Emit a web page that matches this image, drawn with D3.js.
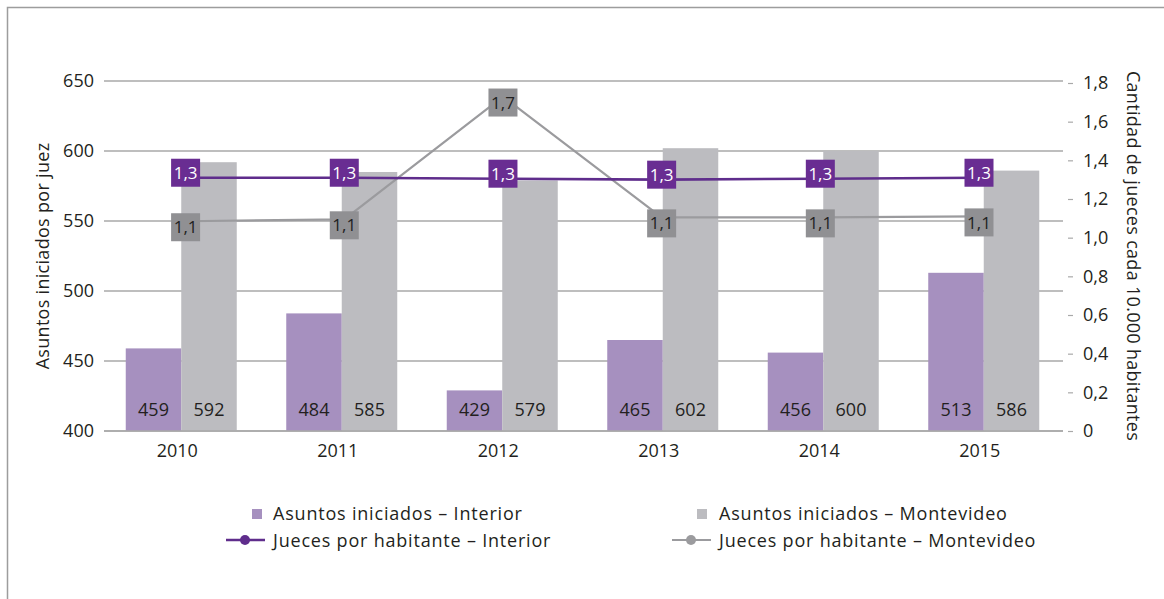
<!DOCTYPE html>
<html>
<head>
<meta charset="utf-8">
<script src="https://cdn.jsdelivr.net/npm/d3@7"></script>
<style>
  body { margin: 0; background: #fff; }
  svg text { font-family: "Open Sans", "Noto Sans", sans-serif; fill: #231f20; }
</style>
</head>
<body>
<svg id="chart" width="1164" height="599"></svg>
<script>
// Data
const years = ["2010", "2011", "2012", "2013", "2014", "2015"];
const asuntosInterior = [459, 484, 429, 465, 456, 513];
const asuntosMontevideo = [592, 585, 579, 602, 600, 586];
const juecesInterior = [1.31, 1.31, 1.305, 1.30, 1.305, 1.31];
const juecesMontevideo = [1.085, 1.095, 1.73, 1.105, 1.105, 1.11];
const leftTicks = [400, 450, 500, 550, 600, 650];
const rightTicks = [0, 0.2, 0.4, 0.6, 0.8, 1.0, 1.2, 1.4, 1.6, 1.8];

const colInteriorBar = "#a690bf", colMontevideoBar = "#bcbcc0";
const colInteriorLine = "#5f2d8c", colInteriorBox = "#692d92";
const colMontevideoLine = "#9b9b9e", colMontevideoBox = "#909093";

const svg = d3.select("#chart");
const fmt = v => d3.format(".1f")(v).replace(".", ",");

// Scales
const x = d3.scaleBand().domain(years).range([101, 1064]);
const xPt = d3.scalePoint().domain(years).range([185.6, 979]);
const yL = d3.scaleLinear().domain([400, 650]).range([431, 81]);
const yR = d3.scaleLinear().domain([0, 1.8]).range([431, 83]);
const barW = 55.5;

// Frame
svg.append("path").attr("d", "M7.5,599 V7.5 H1164")
  .attr("fill", "none").attr("stroke", "#9d9d9d").attr("stroke-width", 1.5);

// Gridlines + left axis
const yAxisL = d3.axisLeft(yL).tickValues(leftTicks).tickSize(0).tickPadding(10);
const gL = svg.append("g").attr("transform", "translate(104,0)").call(yAxisL);
gL.select(".domain").remove();
gL.selectAll("text").style("font-size", "18px");

svg.append("g").selectAll("line").data(leftTicks).join("line")
  .attr("x1", 104).attr("x2", 1063)
  .attr("y1", d => yL(d)).attr("y2", d => yL(d))
  .attr("stroke", "#a9a9a9").attr("stroke-width", 1.5);

// Right axis
const yAxisR = d3.axisRight(yR).tickValues(rightTicks).tickSize(5).tickPadding(10)
  .tickFormat(d => d === 0 ? "0" : fmt(d));
const gR = svg.append("g").attr("transform", "translate(1068,0)").call(yAxisR);
gR.select(".domain").remove();
gR.selectAll(".tick line").attr("stroke", "#a9a9a9").attr("stroke-width", 1.2);
gR.selectAll("text").style("font-size", "18px");

// Bars
const bars = svg.append("g");
bars.selectAll(".bi").data(years).join("rect")
  .attr("x", d => x(d) + x.bandwidth() / 2 - barW)
  .attr("width", barW)
  .attr("y", (d, i) => yL(asuntosInterior[i]))
  .attr("height", (d, i) => yL(400) - yL(asuntosInterior[i]))
  .attr("fill", colInteriorBar);
bars.selectAll(".bm").data(years).join("rect")
  .attr("x", d => x(d) + x.bandwidth() / 2)
  .attr("width", barW)
  .attr("y", (d, i) => yL(asuntosMontevideo[i]))
  .attr("height", (d, i) => yL(400) - yL(asuntosMontevideo[i]))
  .attr("fill", colMontevideoBar);

// Bar value labels
const barLabels = svg.append("g").style("font-size", "18px").attr("text-anchor", "middle");
barLabels.selectAll(".li").data(years).join("text")
  .attr("x", d => x(d) + x.bandwidth() / 2 - barW / 2)
  .attr("y", 416)
  .text((d, i) => asuntosInterior[i]);
barLabels.selectAll(".lm").data(years).join("text")
  .attr("x", d => x(d) + x.bandwidth() / 2 + barW / 2)
  .attr("y", 416)
  .text((d, i) => asuntosMontevideo[i]);

// Bottom baseline
svg.append("line").attr("x1", 104).attr("x2", 1063).attr("y1", 431).attr("y2", 431)
  .attr("stroke", "#a9a9a9").attr("stroke-width", 1.5);

// X axis labels
const xAxis = d3.axisBottom(x).tickSize(0).tickPadding(13);
const gX = svg.append("g").attr("transform", "translate(-4,431)").call(xAxis);
gX.select(".domain").remove();
gX.selectAll("text").style("font-size", "18px");

// Lines
const line = d3.line().x((d, i) => xPt(years[i]));
svg.append("path").datum(juecesMontevideo)
  .attr("d", line.y(d => yR(d)))
  .attr("fill", "none").attr("stroke", colMontevideoLine).attr("stroke-width", 2.2);
svg.append("path").datum(juecesInterior)
  .attr("d", line.y(d => yR(d)))
  .attr("fill", "none").attr("stroke", colInteriorLine).attr("stroke-width", 2.6);

// Line labels (boxes)
function boxLabels(vals, fill, textFill, dy) {
  const g = svg.append("g").selectAll("g").data(vals).join("g")
    .attr("transform", (d, i) => `translate(${xPt(years[i])},${yR(d) + dy})`);
  g.append("rect").attr("x", -14.5).attr("y", -14).attr("width", 29).attr("height", 28).attr("fill", fill);
  g.append("text").attr("text-anchor", "middle").attr("dy", "0.36em")
    .style("font-size", "17px").style("fill", textFill).text(d => fmt(d));
}
boxLabels(juecesMontevideo, colMontevideoBox, "#222", 6);
boxLabels(juecesInterior, colInteriorBox, "#fff", -5);

// Axis titles
svg.append("text").attr("transform", "translate(49,256) rotate(-90)")
  .attr("text-anchor", "middle").style("font-size", "18px").style("letter-spacing", "0.3px")
  .text("Asuntos iniciados por juez");
svg.append("text").attr("transform", "translate(1127,256) rotate(90)")
  .attr("text-anchor", "middle").style("font-size", "18px").style("letter-spacing", "0.3px")
  .text("Cantidad de jueces cada 10.000 habitantes");

// Legend
const leg = svg.append("g").style("font-size", "18px").style("letter-spacing", "0.8px");
leg.append("rect").attr("x", 252).attr("y", 509).attr("width", 10).attr("height", 10).attr("fill", colInteriorBar);
leg.append("text").attr("x", 273).attr("y", 520).text("Asuntos iniciados – Interior");
leg.append("rect").attr("x", 697).attr("y", 509).attr("width", 10).attr("height", 10).attr("fill", colMontevideoBar);
leg.append("text").attr("x", 719).attr("y", 520).text("Asuntos iniciados – Montevideo");
leg.append("line").attr("x1", 226).attr("x2", 265).attr("y1", 540).attr("y2", 540)
  .attr("stroke", colInteriorLine).attr("stroke-width", 2.6);
leg.append("circle").attr("cx", 245).attr("cy", 540).attr("r", 5).attr("fill", colInteriorLine);
leg.append("text").attr("x", 273).attr("y", 547).text("Jueces por habitante – Interior");
leg.append("line").attr("x1", 672).attr("x2", 711).attr("y1", 540).attr("y2", 540)
  .attr("stroke", colMontevideoLine).attr("stroke-width", 2.2);
leg.append("circle").attr("cx", 691).attr("cy", 540).attr("r", 5).attr("fill", colMontevideoLine);
leg.append("text").attr("x", 719).attr("y", 547).text("Jueces por habitante – Montevideo");
</script>
</body>
</html>
